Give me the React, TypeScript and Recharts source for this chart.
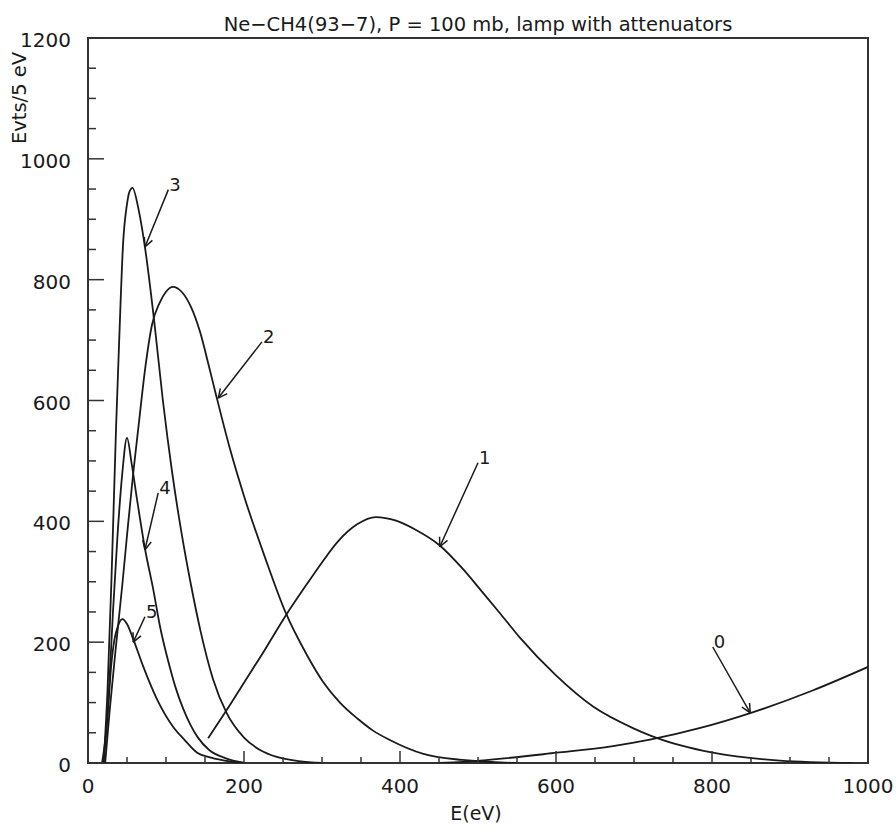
import { LineChart, Line, XAxis, YAxis, ReferenceArea, ReferenceLine } from "recharts";

// curve readings: energy (eV) and events / 5 eV
const curve0E = [450, 481, 601, 673, 722, 785, 850, 929, 1000];
const curve0V = [0, 2, 17, 28, 39, 58, 83, 120, 159];

const curve1E = [154, 178, 200, 227, 253, 280, 300, 320, 345, 369, 395, 420, 451, 480, 503, 530, 554, 600, 648, 700, 722, 760, 801, 887, 980];
const curve1V = [41, 88, 133, 188, 243, 295, 332, 366, 395, 407, 401, 386, 360, 322, 287, 245, 207, 145, 93, 57, 45, 29, 17, 4, 0];

const curve2E = [22, 28, 36, 44, 51, 58, 65, 73, 82, 92, 100, 109, 120, 132, 144, 154, 164, 182, 200, 227, 253, 281, 301, 323, 345, 365, 387, 430, 480, 550];
const curve2V = [0, 90, 195, 295, 390, 480, 560, 650, 725, 762, 780, 788, 780, 755, 712, 662, 610, 520, 442, 340, 250, 178, 135, 100, 74, 54, 38, 15, 5, 0];

const curve3E = [20, 25, 30, 36, 40, 45, 50, 53, 57, 65, 73, 85, 96, 108, 120, 132, 144, 160, 178, 200, 220, 242, 270, 300];
const curve3V = [0, 120, 300, 556, 700, 860, 925, 945, 952, 915, 854, 730, 600, 480, 380, 295, 220, 140, 82, 42, 22, 10, 3, 0];

const curve4E = [20, 26, 32, 38, 44, 50, 56, 63, 73, 84, 92, 105, 112, 122, 131, 141, 155, 176, 200];
const curve4V = [0, 100, 250, 380, 480, 538, 495, 435, 355, 285, 228, 158, 126, 90, 64, 42, 22, 8, 0];

const curve5E = [18, 24, 30, 34, 38, 44, 50, 58, 71, 89, 109, 124, 140, 154, 175, 200];
const curve5V = [0, 60, 165, 205, 225, 238, 230, 205, 159, 104, 60, 38, 17, 10, 4, 0];

const xTicks = [0, 50, 100, 150, 200, 250, 300, 350, 400, 450, 500, 550, 600, 650, 700, 750, 800, 850, 900, 950, 1000];
const yTicks = [0, 50, 100, 150, 200, 250, 300, 350, 400, 450, 500, 550, 600, 650, 700, 750, 800, 850, 900, 950, 1000, 1050, 1100, 1150, 1200];

// curve labels with arrows (tail near the number, tip on the curve)
const arrowLabels = ["0", "1", "2", "3", "4", "5"];
const arrowTailE = [801, 500, 223, 103, 90, 73];
const arrowTailV = [192, 497, 697, 949, 447, 242];
const arrowTipE = [849, 451, 167, 73, 73, 58];
const arrowTipV = [83, 358, 604, 854, 353, 200];

const toPoints = (es: number[], vs: number[]) => es.map((e, i) => ({ e, v: vs[i] }));

const curves = [
	toPoints(curve0E, curve0V),
	toPoints(curve1E, curve1V),
	toPoints(curve2E, curve2V),
	toPoints(curve3E, curve3V),
	toPoints(curve4E, curve4V),
	toPoints(curve5E, curve5V),
];

const FONT = "'DejaVu Sans', sans-serif";
const INK = "#1a1a1a";

const YTick = (props: any) => {
	const { x, y, payload } = props;
	const major = payload.value % 200 === 0;
	return (
		<g>
			<line x1={x} y1={y} x2={x + (major ? 16 : 8)} y2={y} stroke="#333" strokeWidth={1.5} />
			{major && (
				<text x={x - 17} y={y + 2} textAnchor="end" dominantBaseline="central" fontSize={20} fontFamily={FONT} fill={INK}>
					{payload.value}
				</text>
			)}
		</g>
	);
};

const XTick = (props: any) => {
	const { x, y, payload } = props;
	const major = payload.value % 200 === 0;
	return (
		<g>
			<line x1={x} y1={y} x2={x} y2={y - (major ? 12 : 6)} stroke="#333" strokeWidth={1.5} />
			{major && (
				<text x={x} y={y + 23} textAnchor="middle" dominantBaseline="central" fontSize={20} fontFamily={FONT} fill={INK}>
					{payload.value}
				</text>
			)}
		</g>
	);
};

const arrowShape = (label: string) => (p: any) => {
	const { x1, y1, x2, y2 } = p;
	const ang = Math.atan2(y2 - y1, x2 - x1);
	const len = 10;
	const a1 = ang + Math.PI - 0.45;
	const a2 = ang + Math.PI + 0.45;
	return (
		<g>
			<line x1={x1} y1={y1} x2={x2} y2={y2} stroke={INK} strokeWidth={1.5} />
			<line x1={x2} y1={y2} x2={x2 + len * Math.cos(a1)} y2={y2 + len * Math.sin(a1)} stroke={INK} strokeWidth={1.5} />
			<line x1={x2} y1={y2} x2={x2 + len * Math.cos(a2)} y2={y2 + len * Math.sin(a2)} stroke={INK} strokeWidth={1.5} />
			<text x={x1 + 1} y={y1 + 1} fontSize={18} fontFamily={FONT} fill={INK}>
				{label}
			</text>
		</g>
	);
};

const App = () => {
	return (
		<div style={{ position: "relative", width: 896, height: 837, fontFamily: FONT, color: INK }}>
			<style>{`body { margin: 0; }`}</style>
			<LineChart width={896} height={837} margin={{ top: 38, right: 28, left: 0, bottom: 0 }}>
				<XAxis
					type="number"
					dataKey="e"
					domain={[0, 1000]}
					ticks={xTicks}
					interval={0}
					allowDataOverflow
					axisLine={false}
					tickLine={false}
					tickSize={0}
					tickMargin={0}
					height={74}
					tick={<XTick />}
				/>
				<YAxis
					type="number"
					dataKey="v"
					domain={[0, 1200]}
					ticks={yTicks}
					interval={0}
					allowDataOverflow
					axisLine={false}
					tickLine={false}
					tickSize={0}
					tickMargin={0}
					width={88}
					tick={<YTick />}
				/>
				<ReferenceArea x1={0} x2={1000} y1={0} y2={1200} fill="none" stroke="#333" strokeWidth={2} fillOpacity={0} />
				{curves.map((pts, i) => (
					<Line
						key={i}
						data={pts}
						dataKey="v"
						type="monotone"
						stroke={INK}
						strokeWidth={1.8}
						dot={false}
						activeDot={false}
						isAnimationActive={false}
					/>
				))}
				{arrowLabels.map((lab, i) => (
					<ReferenceLine
						key={lab}
						segment={[
							{ x: arrowTailE[i], y: arrowTailV[i] },
							{ x: arrowTipE[i], y: arrowTipV[i] },
						]}
						shape={arrowShape(lab)}
					/>
				))}
			</LineChart>
			<div
				style={{
					position: "absolute",
					left: 88,
					width: 780,
					top: 14,
					textAlign: "center",
					fontSize: 19.5,
					lineHeight: "22px",
					whiteSpace: "nowrap",
				}}
			>
				Ne−CH4(93−7), P = 100 mb, lamp with attenuators
			</div>
			<div
				style={{
					position: "absolute",
					left: 19,
					top: 98,
					transform: "translate(-50%, -50%) rotate(-90deg)",
					fontSize: 19.5,
					whiteSpace: "nowrap",
				}}
			>
				Evts/5 eV
			</div>
			<div
				style={{
					position: "absolute",
					left: 476,
					top: 813,
					transform: "translate(-50%, -50%)",
					fontSize: 19,
					whiteSpace: "nowrap",
				}}
			>
				E(eV)
			</div>
		</div>
	);
};

export default App;
